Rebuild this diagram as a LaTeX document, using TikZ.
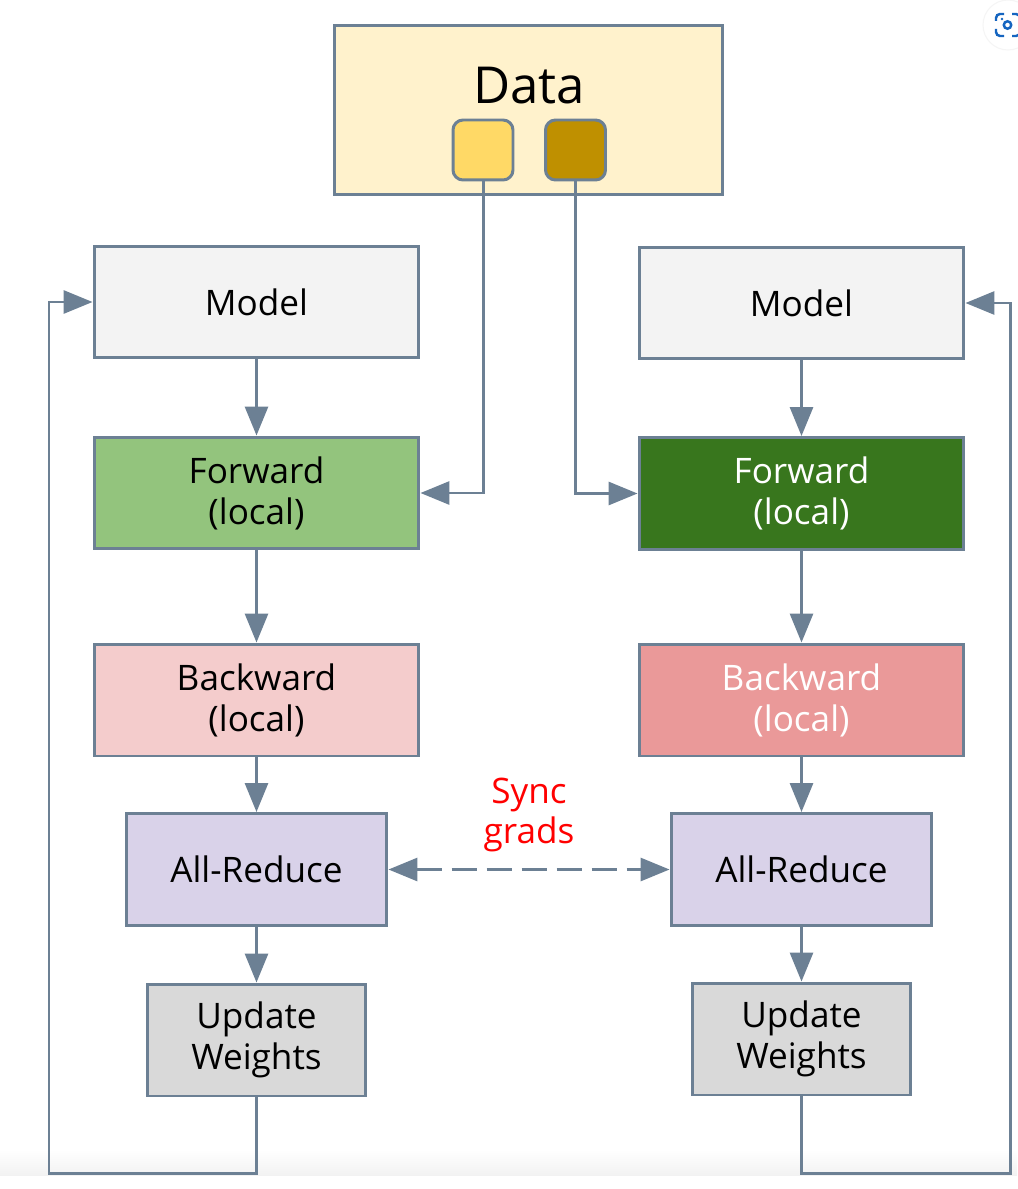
\documentclass[tikz,border=0pt]{standalone}
\usepackage{fontspec}
\setmainfont{Open Sans}
\usetikzlibrary{arrows.meta}
\definecolor{linegray}{HTML}{6C8094}
\definecolor{iconblue}{HTML}{1565C0}
\tikzset{
	box/.style={draw=linegray,line width=1.7pt,align=center,inner sep=0pt,font=\fontsize{20}{23.3}\selectfont},
	widebox/.style={box,minimum width=6.5cm,minimum height=2.24cm},
	midbox/.style={box,minimum width=5.22cm,minimum height=2.24cm},
	smallbox/.style={box,minimum width=4.35cm,minimum height=2.24cm},
	chunk/.style={box,rounded corners=0.2cm,minimum width=1.2cm,minimum height=1.2cm},
	link/.style={draw=linegray,line width=1.7pt},
	tip/.style={-{Triangle[length=0.58cm,width=0.46cm]}},
	bracket/.style={draw=iconblue,line width=1.4pt,rounded corners=0.08cm},
}
\begin{document}
\begin{tikzpicture}[x=0.02cm,y=-0.02cm]
	\useasboundingbox[fill=white] (0,0) rectangle (1017,1189);
	\shade[top color=white,bottom color=black!5] (0,1150) rectangle (1017,1175);
	\node[box,minimum width=7.78cm,minimum height=3.4cm,fill={rgb,255:red,255;green,242;blue,204}] (data) at (528.5,110) {};
	\node[font=\fontsize{29}{30}\selectfont] (datalabel) at (529,86) {Data};
	\node[chunk,fill={rgb,255:red,255;green,217;blue,102}] (chunka) at (483,150) {};
	\node[chunk,fill={rgb,255:red,191;green,144;blue,0}] (chunkb) at (575.5,150) {};
	% left column
	\node[widebox,fill={rgb,255:red,243;green,243;blue,243}] (modela) at (256.5,302) {Model};
	\node[widebox,fill={rgb,255:red,147;green,196;blue,125}] (forwarda) at (256.5,493) {Forward\\(local)};
	\node[widebox,fill={rgb,255:red,244;green,204;blue,204}] (backwarda) at (256.5,700) {Backward\\(local)};
	\node[midbox,fill={rgb,255:red,217;green,210;blue,233}] (reducea) at (256.5,869.5) {All-Reduce};
	\node[smallbox,fill={rgb,255:red,217;green,217;blue,217}] (updatea) at (256.5,1040) {Update\\Weights};
	% right column
	\node[widebox,fill={rgb,255:red,243;green,243;blue,243}] (modelb) at (801.5,303) {Model};
	\node[widebox,fill={rgb,255:red,56;green,118;blue,29},text=white] (forwardb) at (801.5,493.5) {Forward\\(local)};
	\node[widebox,fill={rgb,255:red,234;green,153;blue,153},text=white] (backwardb) at (801.5,700) {Backward\\(local)};
	\node[midbox,fill={rgb,255:red,217;green,210;blue,233}] (reduceb) at (801.5,869.5) {All-Reduce};
	\node[smallbox,fill={rgb,255:red,217;green,217;blue,217}] (updateb) at (801.5,1039) {Update\\Weights};
	\node[align=center,text=red,font=\fontsize{20}{23.3}\selectfont] (sync) at (529,815) {Sync\\grads};
	% arrows
	\draw[link,tip] (modela)--(forwarda);
	\draw[link,tip] (forwarda)--(backwarda);
	\draw[link,tip] (backwarda)--(reducea);
	\draw[link,tip] (reducea)--(updatea);
	\draw[link,tip] (modelb)--(forwardb);
	\draw[link,tip] (forwardb)--(backwardb);
	\draw[link,tip] (backwardb)--(reduceb);
	\draw[link,tip] (reduceb)--(updateb);
	\draw[link,tip] (chunka.south) |- (forwarda.east);
	\draw[link,tip] (chunkb.south) |- (forwardb.west);
	\draw[link,{Triangle[length=0.58cm,width=0.46cm]}-{Triangle[length=0.58cm,width=0.46cm]},dash pattern=on 0.5cm off 0.2cm] (reducea)--(reduceb);
	\coordinate (loopa) at (49,1173);
	\coordinate (loopb) at (1010,1173);
	\draw[link,tip] (updatea.south) |- (loopa) |- (modela.west);
	\draw[link,tip] (updateb.south) |- (loopb) |- (modelb.east);
	% capture button at the corner
	\fill[white,draw=black!4,line width=0.6pt] (1008,25) circle (25);
	\draw[bracket] (996,21)--(996,14)--(1004,14);
	\draw[bracket] (996,29)--(996,36)--(1004,36);
	\draw[bracket] (1012,14)--(1020,14)--(1020,21);
	\draw[bracket] (1012,36)--(1020,36)--(1020,29);
	\fill[iconblue] (1002,19) circle (1.3);
	\draw[iconblue,line width=1.4pt] (1007.5,25) circle (3.7);
\end{tikzpicture}
\end{document}
